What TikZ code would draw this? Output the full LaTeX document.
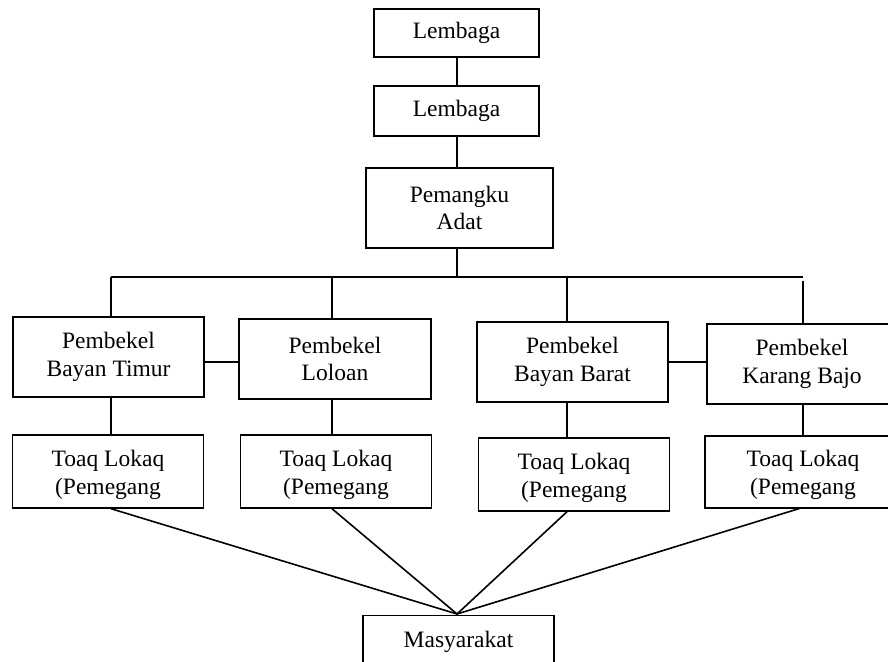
\documentclass[tikz,border=0pt]{standalone}
\usepackage{fontspec}
\setmainfont{Liberation Serif}
\begin{document}
\begin{tikzpicture}[x=1pt,y=-1pt,
  box/.style={draw=black,line width=1.4pt,inner sep=0pt,align=center,
    font=\fontsize{23.5}{27.7}\selectfont,minimum width=#1},
  box/.default=191pt,
  conn/.style={line width=1.6pt,black},
  lbl/.style={inner sep=0pt,align=center,font=\fontsize{23.5}{27.7}\selectfont}]
\useasboundingbox (0,0) rectangle (888,661);
\clip (0,0) rectangle (888,661);
% top chain
\node[box=165pt,minimum height=48pt] (l1) at (456.5,33) {Lembaga};
\node[box=165pt,minimum height=50pt] (l2) at (456.5,111) {Lembaga};
\node[box=187pt,minimum height=80pt] (pa) at (459.5,208) {Pemangku\\Adat};
% pembekel row
\node[box=191pt,minimum height=80pt] (b1) at (108.5,357) {Pembekel\\Bayan Timur};
\node[box=192pt,minimum height=80pt] (b2) at (335,359) {Pembekel\\Loloan};
\node[box=191pt,minimum height=80pt] (b3) at (572.5,362) {Pembekel\\Bayan Barat};
\node[box=190pt,minimum height=80pt] (b4) at (802,364) {Pembekel\\Karang Bajo};
% toaq lokaq row
\node[box=191pt,minimum height=73pt] (t1) at (108,471.5) {};
\node[box=191pt,minimum height=73pt] (t2) at (336,471.5) {};
\node[box=191pt,minimum height=73pt] (t3) at (574,474.5) {};
\node[box=196pt,minimum height=72pt] (t4) at (803,472) {};
\node[lbl] (t1x) at (108,475) {Toaq Lokaq\\(Pemegang};
\node[lbl] (t2x) at (336,475) {Toaq Lokaq\\(Pemegang};
\node[lbl] (t3x) at (574,478) {Toaq Lokaq\\(Pemegang};
\node[lbl] (t4x) at (803,475) {Toaq Lokaq\\(Pemegang};
% masyarakat
\node[box=191pt,minimum height=80pt,anchor=north] (m) at (458.5,615) {};
\node[lbl,anchor=base] (mx) at (458.5,647) {Masyarakat};
% connectors
\coordinate (hc) at (457,277);
\coordinate (h1) at (111,277);
\coordinate (h2) at (332,277);
\coordinate (h3) at (567,277);
\coordinate (h4) at (803,277);
\coordinate (h4s) at (803,281);
\draw[conn] (l1.south -| hc) -- (l2.north -| hc);
\draw[conn] (l2.south -| hc) -- (pa.north -| hc);
\draw[conn] (pa.south -| hc) -- (hc);
\draw[conn] (h1) -- (h4);
\draw[conn] (h1) -- (h1 |- b1.north);
\draw[conn] (h2) -- (h2 |- b2.north);
\draw[conn] (h3) -- (h3 |- b3.north);
\draw[conn] (h4s) -- (h4s |- b4.north);
\coordinate (ry) at (0,362);
\draw[conn] (b1.east |- ry) -- (b2.west |- ry);
\draw[conn] (b3.east |- ry) -- (b4.west |- ry);
\draw[conn] (h1 |- b1.south) -- (h1 |- t1.north);
\draw[conn] (h2 |- b2.south) -- (h2 |- t2.north);
\draw[conn] (h3 |- b3.south) -- (h3 |- t3.north);
\draw[conn] (h4 |- b4.south) -- (h4 |- t4.north);
\coordinate (apex) at (457,614);
\draw[conn] (h1 |- t1.south) -- (apex);
\draw[conn] (h2 |- t2.south) -- (apex);
\draw[conn] (h3 |- t3.south) -- (apex);
\draw[conn] (801,508) -- (apex);
\end{tikzpicture}
\end{document}
